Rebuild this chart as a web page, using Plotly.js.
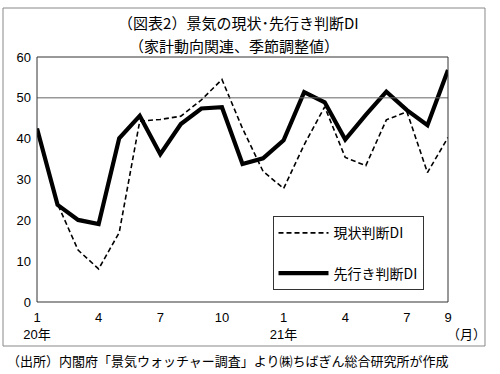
<!DOCTYPE html>
<html>
<head>
<meta charset="utf-8">
<script src="https://cdn.plot.ly/plotly-3.0.1.min.js"></script>
<style>html,body{margin:0;padding:0;background:#fff;}#chart{width:500px;height:374px;}</style>
</head>
<body>
<div id="chart"></div>
<script>
// months Jan 2020 .. Sep 2021
const monthIndex = [0,1,2,3,4,5,6,7,8,9,10,11,12,13,14,15,16,17,18,19,20];
const currentDI = [42.5, 24.0, 12.7, 8.1, 17.0, 44.3, 44.7, 45.5, 49.5, 54.5, 42.5, 32.0, 27.8, 38.5, 47.8, 35.4, 33.4, 44.6, 46.6, 31.7, 40.3];
const futureDI  = [42.5, 23.8, 20.1, 19.1, 40.1, 45.6, 36.2, 43.6, 47.4, 47.7, 33.8, 35.2, 39.6, 51.4, 48.9, 39.8, 45.8, 51.5, 47.0, 43.3, 56.8];
const tickPositions = [0,3,6,9,12,15,18,20];
const tickLabels = ['1<br>20年','4','7','10','1<br>21年','4','7','9'];
const seriesNames = ['現状判断DI','先行き判断DI'];
const titleLine1 = '（図表2）景気の現状･先行き判断DI';
const titleLine2 = '（家計動向関連、季節調整値）';
const sourceText = '（出所）内閣府「景気ウォッチャー調査」より㈱ちばぎん総合研究所が作成';

const jp = '"Noto Sans CJK JP", sans-serif';
const num = '"Liberation Sans", "Noto Sans CJK JP", sans-serif';

const traces = [
  {x: monthIndex, y: currentDI, name: seriesNames[0], type: 'scatter', mode: 'lines',
   line: {color: '#000', width: 1.6, dash: '5px,3px'}, legendgroup: 'a'},
  {x: monthIndex, y: futureDI, name: seriesNames[1], type: 'scatter', mode: 'lines',
   line: {color: '#000', width: 4.2}, legendgroup: 'b'}
];

const layout = {
  width: 500, height: 374,
  margin: {l: 37, r: 52, t: 57, b: 72},
  paper_bgcolor: '#fff', plot_bgcolor: '#fff',
  showlegend: true,
  title: {text: titleLine1, font: {family: jp, size: 15, color: '#000'},
          x: 0.49, xref: 'paper', xanchor: 'center', y: 1 - 24/374, yref: 'container', yanchor: 'middle'},
  xaxis: {range: [0, 20], tickvals: tickPositions, ticktext: tickLabels, showgrid: false,
          zeroline: false, showline: false, ticks: '', tickfont: {family: num, size: 13, color: '#000'},
          ticklabelstandoff: 6},
  yaxis: {range: [0, 60], dtick: 10, showgrid: false, zeroline: false, showline: false, ticks: '',
          tickfont: {family: num, size: 13, color: '#000'}, ticklabelstandoff: 5},
  legend: {x: 0.573, y: 0.35, xanchor: 'left', yanchor: 'top', bgcolor: '#fff',
           bordercolor: '#333', borderwidth: 1, font: {family: jp, size: 14, color: '#000'},
           traceorder: 'grouped', tracegroupgap: 19, itemwidth: 50},
  shapes: [
    {type: 'line', xref: 'paper', yref: 'y', x0: 0, x1: 1, y0: 50, y1: 50, line: {color: '#666', width: 1}},
    {type: 'rect', xref: 'paper', yref: 'paper', x0: 0, x1: 1, y0: 0, y1: 1, line: {color: '#333', width: 1}},
    {type: 'rect', xref: 'paper', yref: 'paper', x0: -0.0827, x1: 1.090, y0: -0.1796, y1: 1.2, line: {color: '#888', width: 1}}
  ],
  annotations: [
    {text: titleLine2, xref: 'paper', yref: 'paper', x: 0.48, y: (302 - 46) / 245, xanchor: 'center', yanchor: 'middle',
     showarrow: false, font: {family: jp, size: 15, color: '#000'}},
    {text: '（月）', xref: 'paper', yref: 'paper', x: 1.046, y: -0.127, xanchor: 'center', yanchor: 'middle',
     showarrow: false, font: {family: jp, size: 13, color: '#000'}},
    {text: sourceText, xref: 'paper', yref: 'paper', x: -0.078, y: -0.237, xanchor: 'left', yanchor: 'middle',
     showarrow: false, font: {family: jp, size: 13, color: '#000'}}
  ]
};

Plotly.newPlot('chart', traces, layout, {staticPlot: true, displayModeBar: false});
</script>
</body>
</html>
